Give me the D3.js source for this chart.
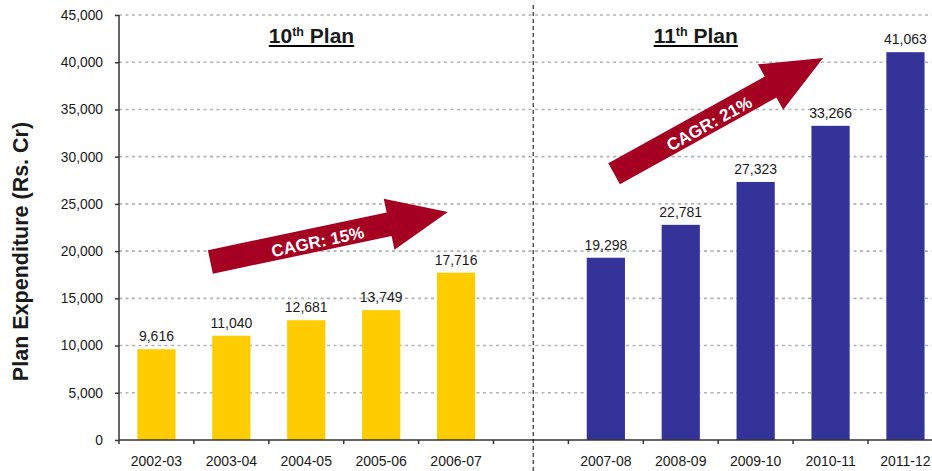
<!DOCTYPE html>
<html>
<head>
<meta charset="utf-8">
<script src="https://cdn.jsdelivr.net/npm/d3@7"></script>
<style>
    body { margin: 0; background: #ffffff; }
    svg { display: block; }
    text { font-family: Arial, "Liberation Sans", sans-serif; fill: #1a1a1a; }
</style>
</head>
<body>
<div id="chart"></div>
<script>
// Data
const years = ["2002-03", "2003-04", "2004-05", "2005-06", "2006-07", "",
               "2007-08", "2008-09", "2009-10", "2010-11", "2011-12"];
const spend = [9616, 11040, 12681, 13749, 17716, null,
               19298, 22781, 27323, 33266, 41063];
const plan = ["10th", "10th", "10th", "10th", "10th", null,
              "11th", "11th", "11th", "11th", "11th"];
const yTicks = [0, 5000, 10000, 15000, 20000, 25000, 30000, 35000, 40000, 45000];

// plan titles, slot position counted from the left edge
const planTitles = [
    {ord: "10", sup: "th", at: 2.57},
    {ord: "11", sup: "th", at: 7.70}
];

// growth arrows: [slot, value] at tail and tip
const cagrArrows = [
    {label: "CAGR: 15%", from: [1.22, 18850], to: [4.39, 24150]},
    {label: "CAGR: 21%", from: [6.61, 28200], to: [9.40, 40450]}
];

const splitAt = 5.53;

const params = {
    selector: "chart",
    width: 932,
    height: 471,
    left: 119,
    top: 15,
    bottom: 440,
    step: 74.9
}

const colors = {"10th": "#FFCC00", "11th": "#333399"};

const svg = d3.select(`#${params.selector}`)
    .append("svg")
    .attr("width", params.width)
    .attr("height", params.height);

const x = d3.scaleBand()
    .domain(years)
    .range([params.left, params.left + params.step * years.length])
    .paddingInner(0.49)
    .paddingOuter(0.245);

const slotX = d3.scaleLinear()
    .domain([0, years.length])
    .range(x.range());

const y = d3.scaleLinear()
    .domain([0, 45000])
    .range([params.bottom, params.top]);

const fmt = d3.format(",");

// gridlines
svg.append("g")
    .selectAll("line")
    .data(yTicks.filter(d => d > 0))
    .join("line")
    .attr("x1", params.left)
    .attr("x2", params.width)
    .attr("y1", d => y(d))
    .attr("y2", d => y(d))
    .attr("stroke", "#b3b3b3")
    .attr("stroke-width", 1.6)
    .attr("stroke-dasharray", "3,3.5");

// bars
const rows = years.map((d, i) => ({year: d, value: spend[i], plan: plan[i]}))
    .filter(d => d.value != null);

svg.append("g")
    .selectAll("rect")
    .data(rows)
    .join("rect")
    .attr("x", d => x(d.year))
    .attr("y", d => y(d.value))
    .attr("width", x.bandwidth())
    .attr("height", d => y(0) - y(d.value))
    .attr("fill", d => colors[d.plan]);

svg.append("g")
    .selectAll("text")
    .data(rows)
    .join("text")
    .attr("x", d => x(d.year) + x.bandwidth() / 2)
    .attr("y", d => y(d.value) - 8)
    .attr("text-anchor", "middle")
    .style("font-size", "14px")
    .text(d => fmt(d.value));

// y axis
const yAxis = svg.append("g")
    .attr("transform", `translate(${params.left},0)`)
    .call(d3.axisLeft(y).tickValues(yTicks).tickFormat(fmt).tickSize(4).tickPadding(12));

yAxis.select(".domain").remove();
yAxis.selectAll(".tick line").attr("stroke", "#333").attr("stroke-width", 1.5);
yAxis.selectAll(".tick text")
    .style("font-size", "13.8px")
    .style("font-family", "Arial, 'Liberation Sans', sans-serif")
    .attr("fill", "#1a1a1a");

svg.append("line")
    .attr("x1", params.left).attr("x2", params.left)
    .attr("y1", params.top).attr("y2", params.bottom + 4)
    .attr("stroke", "#333").attr("stroke-width", 1.5);

// x axis
svg.append("line")
    .attr("x1", params.left).attr("x2", params.width)
    .attr("y1", params.bottom).attr("y2", params.bottom)
    .attr("stroke", "#333").attr("stroke-width", 1.5);

svg.append("g")
    .selectAll("line")
    .data(d3.range(1, years.length + 1))
    .join("line")
    .attr("x1", d => slotX(d)).attr("x2", d => slotX(d))
    .attr("y1", params.bottom).attr("y2", params.bottom + 4)
    .attr("stroke", "#333").attr("stroke-width", 1.5);

svg.append("g")
    .selectAll("text")
    .data(years.filter(d => d !== ""))
    .join("text")
    .attr("x", d => x(d) + x.bandwidth() / 2)
    .attr("y", params.bottom + 26)
    .attr("text-anchor", "middle")
    .style("font-size", "14px")
    .text(d => d);

// axis title
svg.append("text")
    .attr("transform", `translate(28, ${(params.top + params.bottom) / 2 + 24}) rotate(-90)`)
    .attr("text-anchor", "middle")
    .style("font-size", "21.5px")
    .style("font-weight", "bold")
    .attr("fill", "#000")
    .text("Plan Expenditure (Rs. Cr)");

// plan separator
svg.append("line")
    .attr("x1", slotX(splitAt)).attr("x2", slotX(splitAt))
    .attr("y1", 5).attr("y2", params.height)
    .attr("stroke", "#000")
    .attr("stroke-width", 1)
    .attr("stroke-dasharray", "4,3");

// plan titles
planTitles.forEach(function(p) {
    const t = svg.append("text")
        .attr("x", slotX(p.at))
        .attr("y", 43)
        .attr("text-anchor", "middle")
        .style("font-size", "21px")
        .style("font-weight", "bold")
        .attr("fill", "#000");
    t.append("tspan").text(p.ord);
    t.append("tspan").attr("dy", -7).style("font-size", "12.5px").text(p.sup);
    t.append("tspan").attr("dy", 7).text(" Plan");

    const box = t.node().getBBox();
    svg.append("line")
        .attr("x1", box.x).attr("x2", box.x + box.width)
        .attr("y1", 46).attr("y2", 46)
        .attr("stroke", "#000").attr("stroke-width", 2);
});

// CAGR arrows
const shaft = 12, head = 26, headLen = 60;

cagrArrows.forEach(function(a) {
    const tx = slotX(a.from[0]), ty = y(a.from[1]);
    const px = slotX(a.to[0]), py = y(a.to[1]);
    const len = Math.hypot(px - tx, py - ty);
    const ux = (px - tx) / len, uy = (py - ty) / len;
    const nx = -uy, ny = ux;
    const bx = px - ux * headLen, by = py - uy * headLen;

    const pts = [
        [tx + nx * shaft, ty + ny * shaft],
        [bx + nx * shaft, by + ny * shaft],
        [bx + nx * head, by + ny * head],
        [px, py],
        [bx - nx * head, by - ny * head],
        [bx - nx * shaft, by - ny * shaft],
        [tx - nx * shaft, ty - ny * shaft]
    ];

    svg.append("polygon")
        .attr("points", pts.map(p => p.join(",")).join(" "))
        .attr("fill", "#A50021");

    const cx = tx + ux * len * 0.45 + nx * 2;
    const cy = ty + uy * len * 0.45 + ny * 2;
    const ang = Math.atan2(py - ty, px - tx) * 180 / Math.PI;

    svg.append("text")
        .attr("transform", `translate(${cx},${cy}) rotate(${ang})`)
        .attr("text-anchor", "middle")
        .attr("dy", "0.36em")
        .style("font-size", "17px")
        .style("font-weight", "bold")
        .style("fill", "#ffffff")
        .text(a.label);
});
</script>
</body>
</html>
